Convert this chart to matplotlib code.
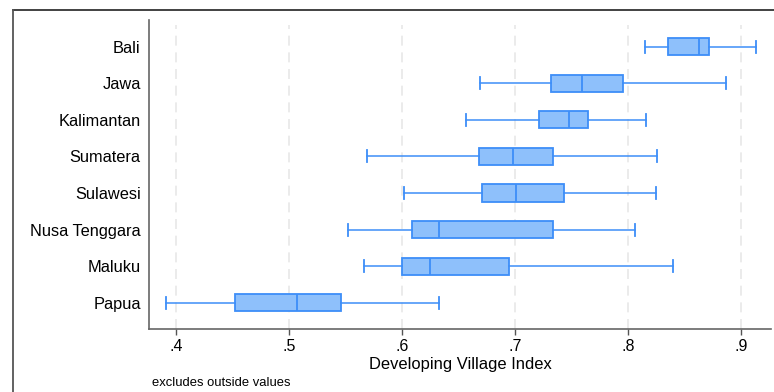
import matplotlib
matplotlib.use("Agg")
import matplotlib.pyplot as plt
from matplotlib.lines import Line2D

plt.rcParams['font.family'] = ['Liberation Sans', 'DejaVu Sans']

# five-number summaries per region (whisker low, Q1, median, Q3, whisker high)
regions = ['Bali', 'Jawa', 'Kalimantan', 'Sumatera', 'Sulawesi',
           'Nusa Tenggara', 'Maluku', 'Papua']
whislo = [0.815, 0.669, 0.657, 0.569, 0.602, 0.552, 0.566, 0.391]
q1 = [0.835, 0.732, 0.721, 0.668, 0.671, 0.609, 0.600, 0.452]
med = [0.863, 0.759, 0.748, 0.698, 0.701, 0.633, 0.625, 0.507]
q3 = [0.872, 0.796, 0.765, 0.734, 0.743, 0.734, 0.695, 0.546]
whishi = [0.913, 0.887, 0.816, 0.826, 0.825, 0.806, 0.840, 0.633]

xticks = [0.4, 0.5, 0.6, 0.7, 0.8, 0.9]
xticklabels = ['.4', '.5', '.6', '.7', '.8', '.9']

fill = '#8ec0fb'
edge = '#3d8ef8'

stats = []
for i, name in enumerate(regions):
    stats.append(dict(label=name, whislo=whislo[i], q1=q1[i], med=med[i],
                      q3=q3[i], whishi=whishi[i], fliers=[]))

fig = plt.figure(figsize=(7.74, 3.92), dpi=100)
ax = fig.add_axes([0.1925, 0.1607, 0.8035, 0.7883])

ax.bxp(stats, positions=range(len(regions)), orientation='horizontal',
       widths=0.47, capwidths=0.33, patch_artist=True, showfliers=False,
       boxprops=dict(facecolor=fill, edgecolor=edge, linewidth=1.3),
       medianprops=dict(color=edge, linewidth=1.3),
       whiskerprops=dict(color=edge, linewidth=1.1),
       capprops=dict(color=edge, linewidth=1.3))

ax.set_ylim(len(regions) - 1 + 0.72, -0.73)
ax.set_xlim(0.376, 0.9265)

for x in xticks:
    ax.axvline(x, ymax=0.985, color='#e8e8e8', linestyle=(0, (6, 4)),
               linewidth=1.2, zorder=0)

ax.set_xticks(xticks)
ax.set_xticklabels(xticklabels)
ax.tick_params(axis='x', length=4, width=1, color='#555555', pad=3.5,
               labelsize=11.5)
ax.tick_params(axis='y', length=0, pad=6, labelsize=11.8)
ax.set_xlabel('Developing Village Index', fontsize=11.9, labelpad=2)

for side in ['top', 'right']:
    ax.spines[side].set_visible(False)
for side in ['left', 'bottom']:
    ax.spines[side].set_color('#666666')
    ax.spines[side].set_linewidth(1.2)

fig.text(152 / 774, 1 - 383 / 392, 'excludes outside values', fontsize=9.4,
         va='center', ha='left')

# outer frame along the top and left
fig.add_artist(Line2D([13 / 774, 1.0], [1 - 10 / 392, 1 - 10 / 392],
                      color='#333333', linewidth=1.3, transform=fig.transFigure))
fig.add_artist(Line2D([13 / 774, 13 / 774], [0.0, 1 - 10 / 392],
                      color='#555555', linewidth=1.3, transform=fig.transFigure))

fig.savefig('out.png', dpi=100)
